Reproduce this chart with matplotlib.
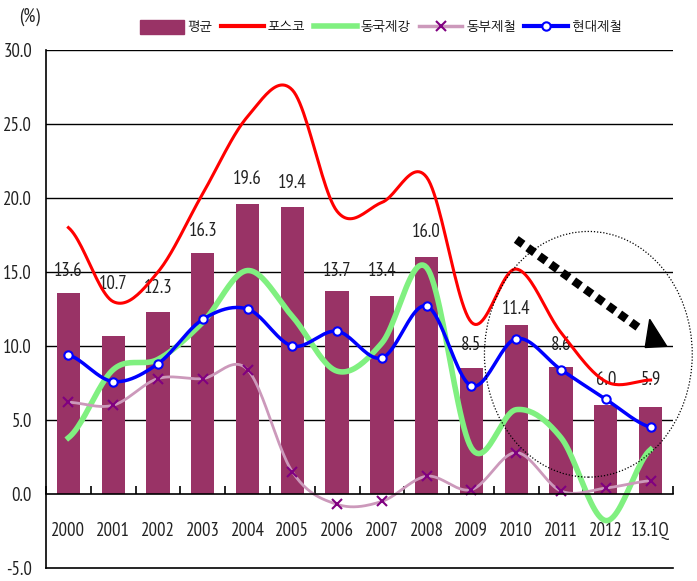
import numpy as np
import matplotlib
matplotlib.use('Agg')
import matplotlib.pyplot as plt
from matplotlib.patches import Ellipse, Patch, Polygon
from matplotlib.lines import Line2D

plt.rcParams['axes.unicode_minus'] = False

# data
years = ['2000', '2001', '2002', '2003', '2004', '2005', '2006', '2007',
         '2008', '2009', '2010', '2011', '2012', '13.1Q']
avg = [13.6, 10.7, 12.3, 16.3, 19.6, 19.4, 13.7, 13.4, 16.0, 8.5, 11.4, 8.6, 6.0, 5.9]
posco = [18.0, 13.0, 15.0, 20.3, 25.5, 27.3, 19.1, 19.7, 21.4, 11.6, 15.2, 10.9, 7.6, 7.7]
dongkuk = [3.8, 8.4, 9.1, 11.6, 15.1, 12.0, 8.3, 10.2, 15.3, 3.1, 5.7, 3.8, -1.8, 3.0]
dongbu = [6.2, 6.0, 7.8, 7.8, 8.4, 1.5, -0.7, -0.5, 1.2, 0.3, 2.8, 0.2, 0.4, 0.9]
hyundai = [9.4, 7.6, 8.8, 11.8, 12.5, 10.0, 11.0, 9.2, 12.7, 7.3, 10.5, 8.4, 6.4, 4.5]
names = ['평균', '포스코', '동국제강', '동부제철', '현대제철']

# label offset above the bars (2001 label sits higher in the original)
lab_off = [1.5, 3.5, 1.6, 1.5, 1.7, 1.6, 1.4, 1.7, 1.7, 1.6, 1.1, 1.5, 1.7, 1.8]

NUM_FONT = ['PT Sans Narrow', 'DejaVu Sans']
KR_FONT = ['NanumGothic', 'Noto Sans CJK KR', 'DejaVu Sans']
TXT = '#222222'


def smooth(vals, n=24):
    # Catmull-Rom like Excel's smoothed line
    y = np.asarray(vals, float)
    p = np.concatenate([[y[0]], y, [y[-1]]])
    xs, ys = [], []
    t = np.linspace(0, 1, n, endpoint=False)
    for i in range(len(y) - 1):
        p0, p1, p2, p3 = p[i], p[i + 1], p[i + 2], p[i + 3]
        seg = 0.5 * (2 * p1 + (-p0 + p2) * t + (2 * p0 - 5 * p1 + 4 * p2 - p3) * t ** 2
                     + (-p0 + 3 * p1 - 3 * p2 + p3) * t ** 3)
        xs.extend(i + t)
        ys.extend(seg)
    xs.append(len(y) - 1)
    ys.append(y[-1])
    return np.array(xs), np.array(ys)


fig = plt.figure(figsize=(6.97, 5.81), dpi=100)
ax = fig.add_axes([46 / 697, 13 / 581, 627 / 697, 518 / 581])
x = np.arange(len(years))

ax.set_xlim(-0.5, len(years) - 0.5)
ax.set_ylim(-5, 30)

# grid lines
for g in range(5, 31, 5):
    ax.axhline(g, color='black', lw=1.0, zorder=1)
ax.axhline(-5, color='black', lw=1.2, zorder=1, clip_on=False)

ax.bar(x, avg, width=0.52, color='#993366', zorder=2)

for i, v in enumerate(avg):
    ax.text(i, v + lab_off[i], f'{v:.1f}', ha='center', va='center',
            fontsize=13.5, family=NUM_FONT, color=TXT, zorder=3)

sx, sy = smooth(posco)
ax.plot(sx, sy, color='#ff0000', lw=2.2, zorder=4)
sx, sy = smooth(dongkuk)
ax.plot(sx, sy, color='#80f080', lw=4.0, zorder=4)
sx, sy = smooth(dongbu)
ax.plot(sx, sy, color='#cc99bb', lw=2.0, zorder=4)
ax.plot(x, dongbu, ls='none', marker='x', ms=7, mew=1.5, color='#800080', zorder=5)
sx, sy = smooth(hyundai)
ax.plot(sx, sy, color='#0000ff', lw=2.5, zorder=6)
ax.plot(x, hyundai, ls='none', marker='o', ms=6, mfc='white', mec='#0000ff', mew=1.5, zorder=7)

# spines / ticks
for s in ['top', 'right']:
    ax.spines[s].set_visible(False)
ax.spines['bottom'].set_position(('data', 0))
ax.spines['bottom'].set_linewidth(1.2)
ax.spines['left'].set_linewidth(1.2)
ax.spines['bottom'].set_zorder(8)
ax.set_xticks(np.arange(-0.5, len(years), 1.0))
ax.tick_params(axis='x', direction='in', length=6, width=1.2, labelbottom=False)
ax.set_yticks(range(-5, 31, 5))
ax.set_yticklabels([f'{t:.1f}' for t in range(-5, 31, 5)])
ax.tick_params(axis='y', length=0, pad=10)
for lab in ax.get_yticklabels():
    lab.set_family(NUM_FONT)
    lab.set_fontsize(13.5)
    lab.set_color(TXT)

for i, name in enumerate(years):
    ax.text(i, -2.5, name, ha='center', va='center', fontsize=13.5,
            family=NUM_FONT, color=TXT)

# trend arrow and circle
ax.add_patch(Ellipse((11.61, 9.44), 4.64, 16.6, fill=False, ls=(0, (1, 1.5)),
                     lw=0.9, color='black', clip_on=False, zorder=9))
ax.plot([10.0, 12.75], [17.2, 11.2], color='black', lw=6, ls=(0, (1, 0.7)),
        solid_capstyle='butt', dash_capstyle='butt', zorder=9)
ax.add_patch(Polygon([[12.98, 11.8], [13.36, 9.98], [12.88, 9.9]],
                     closed=True, color='black', zorder=9, clip_on=False))

fig.text(30 / 697, 1 - 17 / 581, '(%)', ha='center', va='center', fontsize=13.5,
         family=NUM_FONT, color=TXT)

handles = [Patch(color='#993366'),
           Line2D([], [], color='#ff0000', lw=3),
           Line2D([], [], color='#80f080', lw=4),
           Line2D([], [], color='#cc99bb', lw=2.5, marker='x', ms=7, mew=1.5, mec='#800080'),
           Line2D([], [], color='#0000ff', lw=3, marker='o', ms=6, mfc='white', mec='#0000ff', mew=1.5)]
fig.legend(handles, names, loc='center', bbox_to_anchor=(381 / 697, 1 - 27 / 581),
           ncol=5, frameon=False, prop={'family': KR_FONT, 'size': 9.5},
           handlelength=3.3, handletextpad=0.3, columnspacing=0.6, handleheight=1.2)

fig.savefig('out.png', dpi=100)
